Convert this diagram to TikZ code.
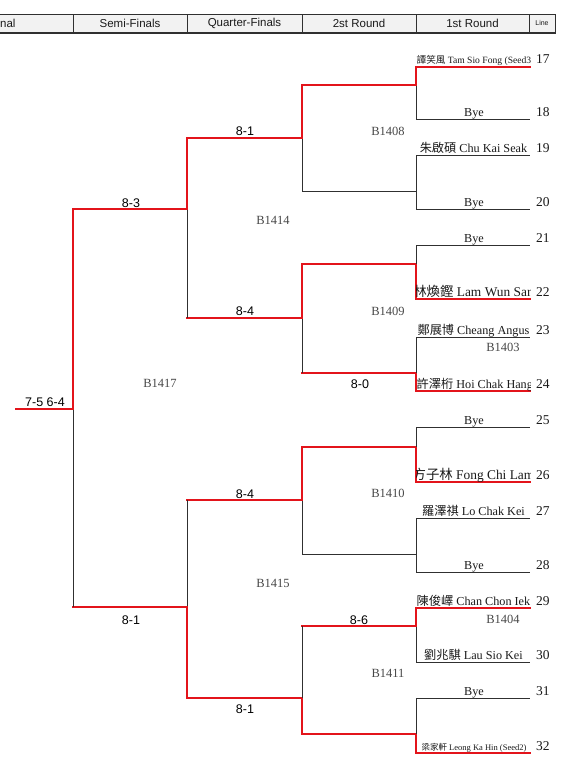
\documentclass[tikz,border=0pt]{standalone}
\usepackage{fontspec}
\setmainfont{Liberation Serif}
\newfontfamily\sansfnt{Liberation Sans}
\newfontfamily\cjk{Noto Sans CJK TC}
\usepackage{tikz}
\usetikzlibrary{positioning}
\definecolor{ink}{HTML}{1A1A1A}
\definecolor{wire}{HTML}{303030}
\definecolor{rred}{HTML}{E3141B}
\definecolor{hdrL}{HTML}{F2F2F2}
\definecolor{codeg}{HTML}{474747}
\tikzset{
  lose/.style  ={draw=wire, line width=1pt},
  win/.style   ={draw=rred, line width=2pt, line cap=rect},
  hcell/.style ={draw=wire, fill=hdrL, line width=.8pt, minimum height=19pt, inner sep=0pt,
                 font=\sansfnt\fontsize{11.5}{13}\selectfont, text=ink},
  pname/.style ={anchor=base, inner sep=0pt, font=\fontsize{12.2}{15}\selectfont, text=ink},
  pnamebig/.style={pname, font=\fontsize{13.4}{15}\selectfont},
  pnamesm/.style={pname, font=\fontsize{9}{10}\selectfont},
  lno/.style   ={anchor=base west, inner sep=0pt, font=\fontsize{13.5}{15}\selectfont, text=ink},
  score/.style ={anchor=base, inner sep=0pt, font=\sansfnt\fontsize{12.5}{14}\selectfont, text=black},
  mcode/.style ={inner sep=0pt, font=\fontsize{12.5}{14}\selectfont, text=codeg},
}

\begin{document}
\begin{tikzpicture}[x=1pt,y=-1pt]
  \clip (0,0) rectangle (572,770);
  % --- header band ---
  \node[hcell, minimum width=140pt](hF) at (3,23.5){Final};
  \node[hcell, minimum width=114pt](hS) at (130,23.5){Semi-Finals};
  \node[hcell, minimum width=115pt](hQ) at (244.5,23.5){Quarter-Finals};
  \node[hcell, minimum width=114pt](h2) at (359,23.5){2st Round};
  \node[hcell, minimum width=113pt](h1) at (472.5,23.5){1st Round};
  \node[hcell, minimum width=26pt, font=\sansfnt\fontsize{7}{8}\selectfont](hL) at (542,23.5){Line};
  \draw[wire, line width=2pt] (hF.south west) -- (hL.south east);

  % --- first round slots ---
  \foreach \n/\y/\st in {17/67/win,18/120/lose,19/156/lose,20/209/lose,
                         21/245/lose,22/299/win,23/337/lose,24/391/win,
                         25/427/lose,26/482/win,27/518/lose,28/572/lose,
                         29/608/win,30/662/lose,31/698/lose,32/753/win}{
    \coordinate (s\n) at (416,\y);
    \coordinate (e\n) at (530,\y);
    \draw[\st] (s\n) -- (e\n);
    \node[lno](ln\n) at (536,\y-3){\n};
  }
  % --- second round ---
  \foreach \k/\y/\st in {1/85/win,2/191/lose,3/264/win,4/373/win,
                         5/447/win,6/554/lose,7/626/win,8/734/win}{
    \coordinate (a\k) at (302,\y);
    \coordinate (b\k) at (416,\y);
    \draw[\st] (a\k) -- (b\k);
  }
  \foreach \k/\u/\d/\su/\sd in {1/17/18/win/lose,2/19/20/lose/lose,3/21/22/lose/win,
                                4/23/24/lose/win,5/25/26/lose/win,6/27/28/lose/lose,
                                7/29/30/win/lose,8/31/32/lose/win}{
    \draw[\sd] (b\k) -- (s\d);
    \draw[\su] (b\k) -- (s\u);
  }
  % --- quarter-finals ---
  \foreach \k/\y in {1/138,2/318,3/500,4/698}{
    \coordinate (c\k) at (187,\y);
    \coordinate (d\k) at (302,\y);
    \draw[win] (c\k) -- (d\k);
  }
  \foreach \k/\u/\d/\su/\sd in {1/1/2/win/lose,2/3/4/win/lose,3/5/6/win/lose,4/7/8/lose/win}{
    \draw[\sd] (d\k) -- (a\d);
    \draw[\su] (d\k) -- (a\u);
  }
  % --- semi-finals and final ---
  \coordinate (f1) at (73,209);  \coordinate (g1) at (187,209);
  \coordinate (f2) at (73,607);  \coordinate (g2) at (187,607);
  \draw[win] (f1) -- (g1);
  \draw[win] (f2) -- (g2);
  \draw[lose] (g1) -- (c2);  \draw[win] (g1) -- (c1);
  \draw[lose] (g2) -- (c3);  \draw[win] (g2) -- (c4);
  \coordinate (fin) at (16,409); \coordinate (k0) at (73,409);
  \draw[lose] (k0) -- (f2);
  \draw[win] (k0) -- (f1);
  \draw[win] (fin) -- (k0);

  % --- players (clipped to the first-round column) ---
  \begin{scope}
    \clip (416,40) rectangle (530,770);
    \node[pnamesm, anchor=base west, font=\fontsize{9.6}{10}\selectfont](p17) at (416.5,64){{\cjk 譚笑風} Tam Sio Fong (Seed3)};
    \node[pname](p19) at (473.5,153){{\cjk 朱啟碩} Chu Kai Seak};
    \node[pnamebig](p22) at (473.5,296){{\cjk 林煥鏗} Lam Wun San};
    \node[pname](p23) at (473.5,334){{\cjk 鄭展博} Cheang Angus};
    \node[pname, anchor=base west](p24) at (416.5,388){{\cjk 許澤桁} Hoi Chak Hang};
    \node[pnamebig](p26) at (473.5,479){{\cjk 方子林} Fong Chi Lam};
    \node[pname](p27) at (473.5,515){{\cjk 羅澤祺} Lo Chak Kei};
    \node[pname](p29) at (473.5,605){{\cjk 陳俊嶧} Chan Chon Iek};
    \node[pname](p30) at (473.5,659){{\cjk 劉兆騏} Lau Sio Kei};
    \node[pnamesm, font=\fontsize{8.5}{10}\selectfont](p32) at (474,750){{\cjk 梁家軒} Leong Ka Hin (Seed2)};
    \foreach \n/\y in {18/117,20/206,21/242,25/424,28/569,31/695}
      \node[pname](p\n) at (474,\y){Bye};
  \end{scope}

  % --- match codes ---
  \node[mcode](m1408) at (388,131){B1408};
  \node[mcode](m1414) at (273,220){B1414};
  \node[mcode](m1409) at (388,311){B1409};
  \node[mcode](m1403) at (503,347){B1403};
  \node[mcode](m1417) at (160,383){B1417};
  \node[mcode](m1410) at (388,493){B1410};
  \node[mcode](m1415) at (273,583){B1415};
  \node[mcode](m1404) at (503,619){B1404};
  \node[mcode](m1411) at (388,673){B1411};

  % --- scores ---
  \node[score](r1) at (245,136){8-1};
  \node[score](r2) at (131,207){8-3};
  \node[score](r3) at (245,315){8-4};
  \node[score](r4) at (360,388){8-0};
  \node[score](r5) at (45,406.5){7-5 6-4};
  \node[score](r6) at (245,498){8-4};
  \node[score](r7) at (131,624){8-1};
  \node[score](r8) at (359,624){8-6};
  \node[score](r9) at (245,713){8-1};
\end{tikzpicture}
\end{document}
